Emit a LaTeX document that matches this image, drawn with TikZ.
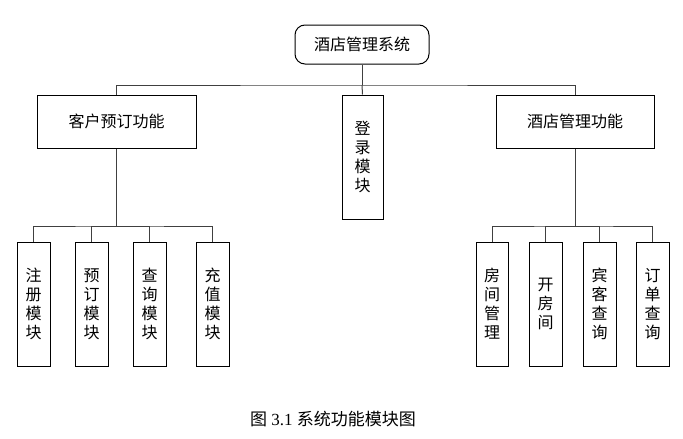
\documentclass[tikz,border=0pt]{standalone}
\usepackage{fontspec}
\setmainfont{Liberation Serif}
\newfontfamily\cjk{Noto Sans CJK SC}
\begin{document}
\begin{tikzpicture}[x=1pt,y=-1pt,
  box/.style={draw=black,line width=1pt,fill=white,inner sep=0pt,font=\cjk\fontsize{16}{19}\selectfont,align=center},
  conn/.style={draw=black!75,line width=1pt}]
\useasboundingbox (0,0) rectangle (683,439);
\fill[white] (0,0) rectangle (683,439);
% top
\node[box,rounded corners=10pt,minimum width=134pt,minimum height=39pt] (sys) at (362,44.5) {酒店管理系统};
% level 2
\node[box,minimum width=159pt,minimum height=53pt] (cust) at (116.5,121.5) {客户预订功能};
\node[box,minimum width=41pt,minimum height=124pt] (login) at (362.5,157) {登\\录\\模\\块};
\node[box,minimum width=158pt,minimum height=53pt] (hotel) at (575,121.5) {酒店管理功能};
% left children
\node[box,minimum width=33pt,minimum height=124pt] (c1) at (33.5,304) {注\\册\\模\\块};
\node[box,minimum width=33pt,minimum height=124pt] (c2) at (91.5,304) {预\\订\\模\\块};
\node[box,minimum width=33pt,minimum height=124pt] (c3) at (149.5,304) {查\\询\\模\\块};
\node[box,minimum width=33pt,minimum height=124pt] (c4) at (212.5,304) {充\\值\\模\\块};
% right children
\node[box,minimum width=32pt,minimum height=124pt] (h1) at (492,304) {房\\间\\管\\理};
\node[box,minimum width=33pt,minimum height=124pt] (h2) at (545.5,304) {开\\房\\间};
\node[box,minimum width=33pt,minimum height=124pt] (h3) at (599.5,304) {宾\\客\\查\\询};
\node[box,minimum width=33pt,minimum height=124pt] (h4) at (652.5,304) {订\\单\\查\\询};
% connectors
\coordinate (b1) at (362,85);
\coordinate (lb) at (116.5,226);
\coordinate (rb) at (575,226);
\draw[conn] (sys.south) -- (b1);
\draw[conn] (cust.north) |- (b1) -| (hotel.north);
\draw[conn] (b1) -- (login.north);
\draw[conn] (cust.south) -- (lb);
\draw[conn] (c1.north) |- (lb) -| (c4.north);
\draw[conn] (c2.north) |- (lb);
\draw[conn] (c3.north) |- (lb);
\draw[conn] (hotel.south) -- (rb);
\draw[conn] (h1.north) |- (rb) -| (h4.north);
\draw[conn] (h2.north) |- (rb);
\draw[conn] (h3.north) |- (rb);
% caption
\node[inner sep=0pt,font=\fontsize{17}{20}\selectfont] (cap) at (333,419) {{\cjk 图} 3.1 {\cjk 系统功能模块图}};
\end{tikzpicture}
\end{document}
